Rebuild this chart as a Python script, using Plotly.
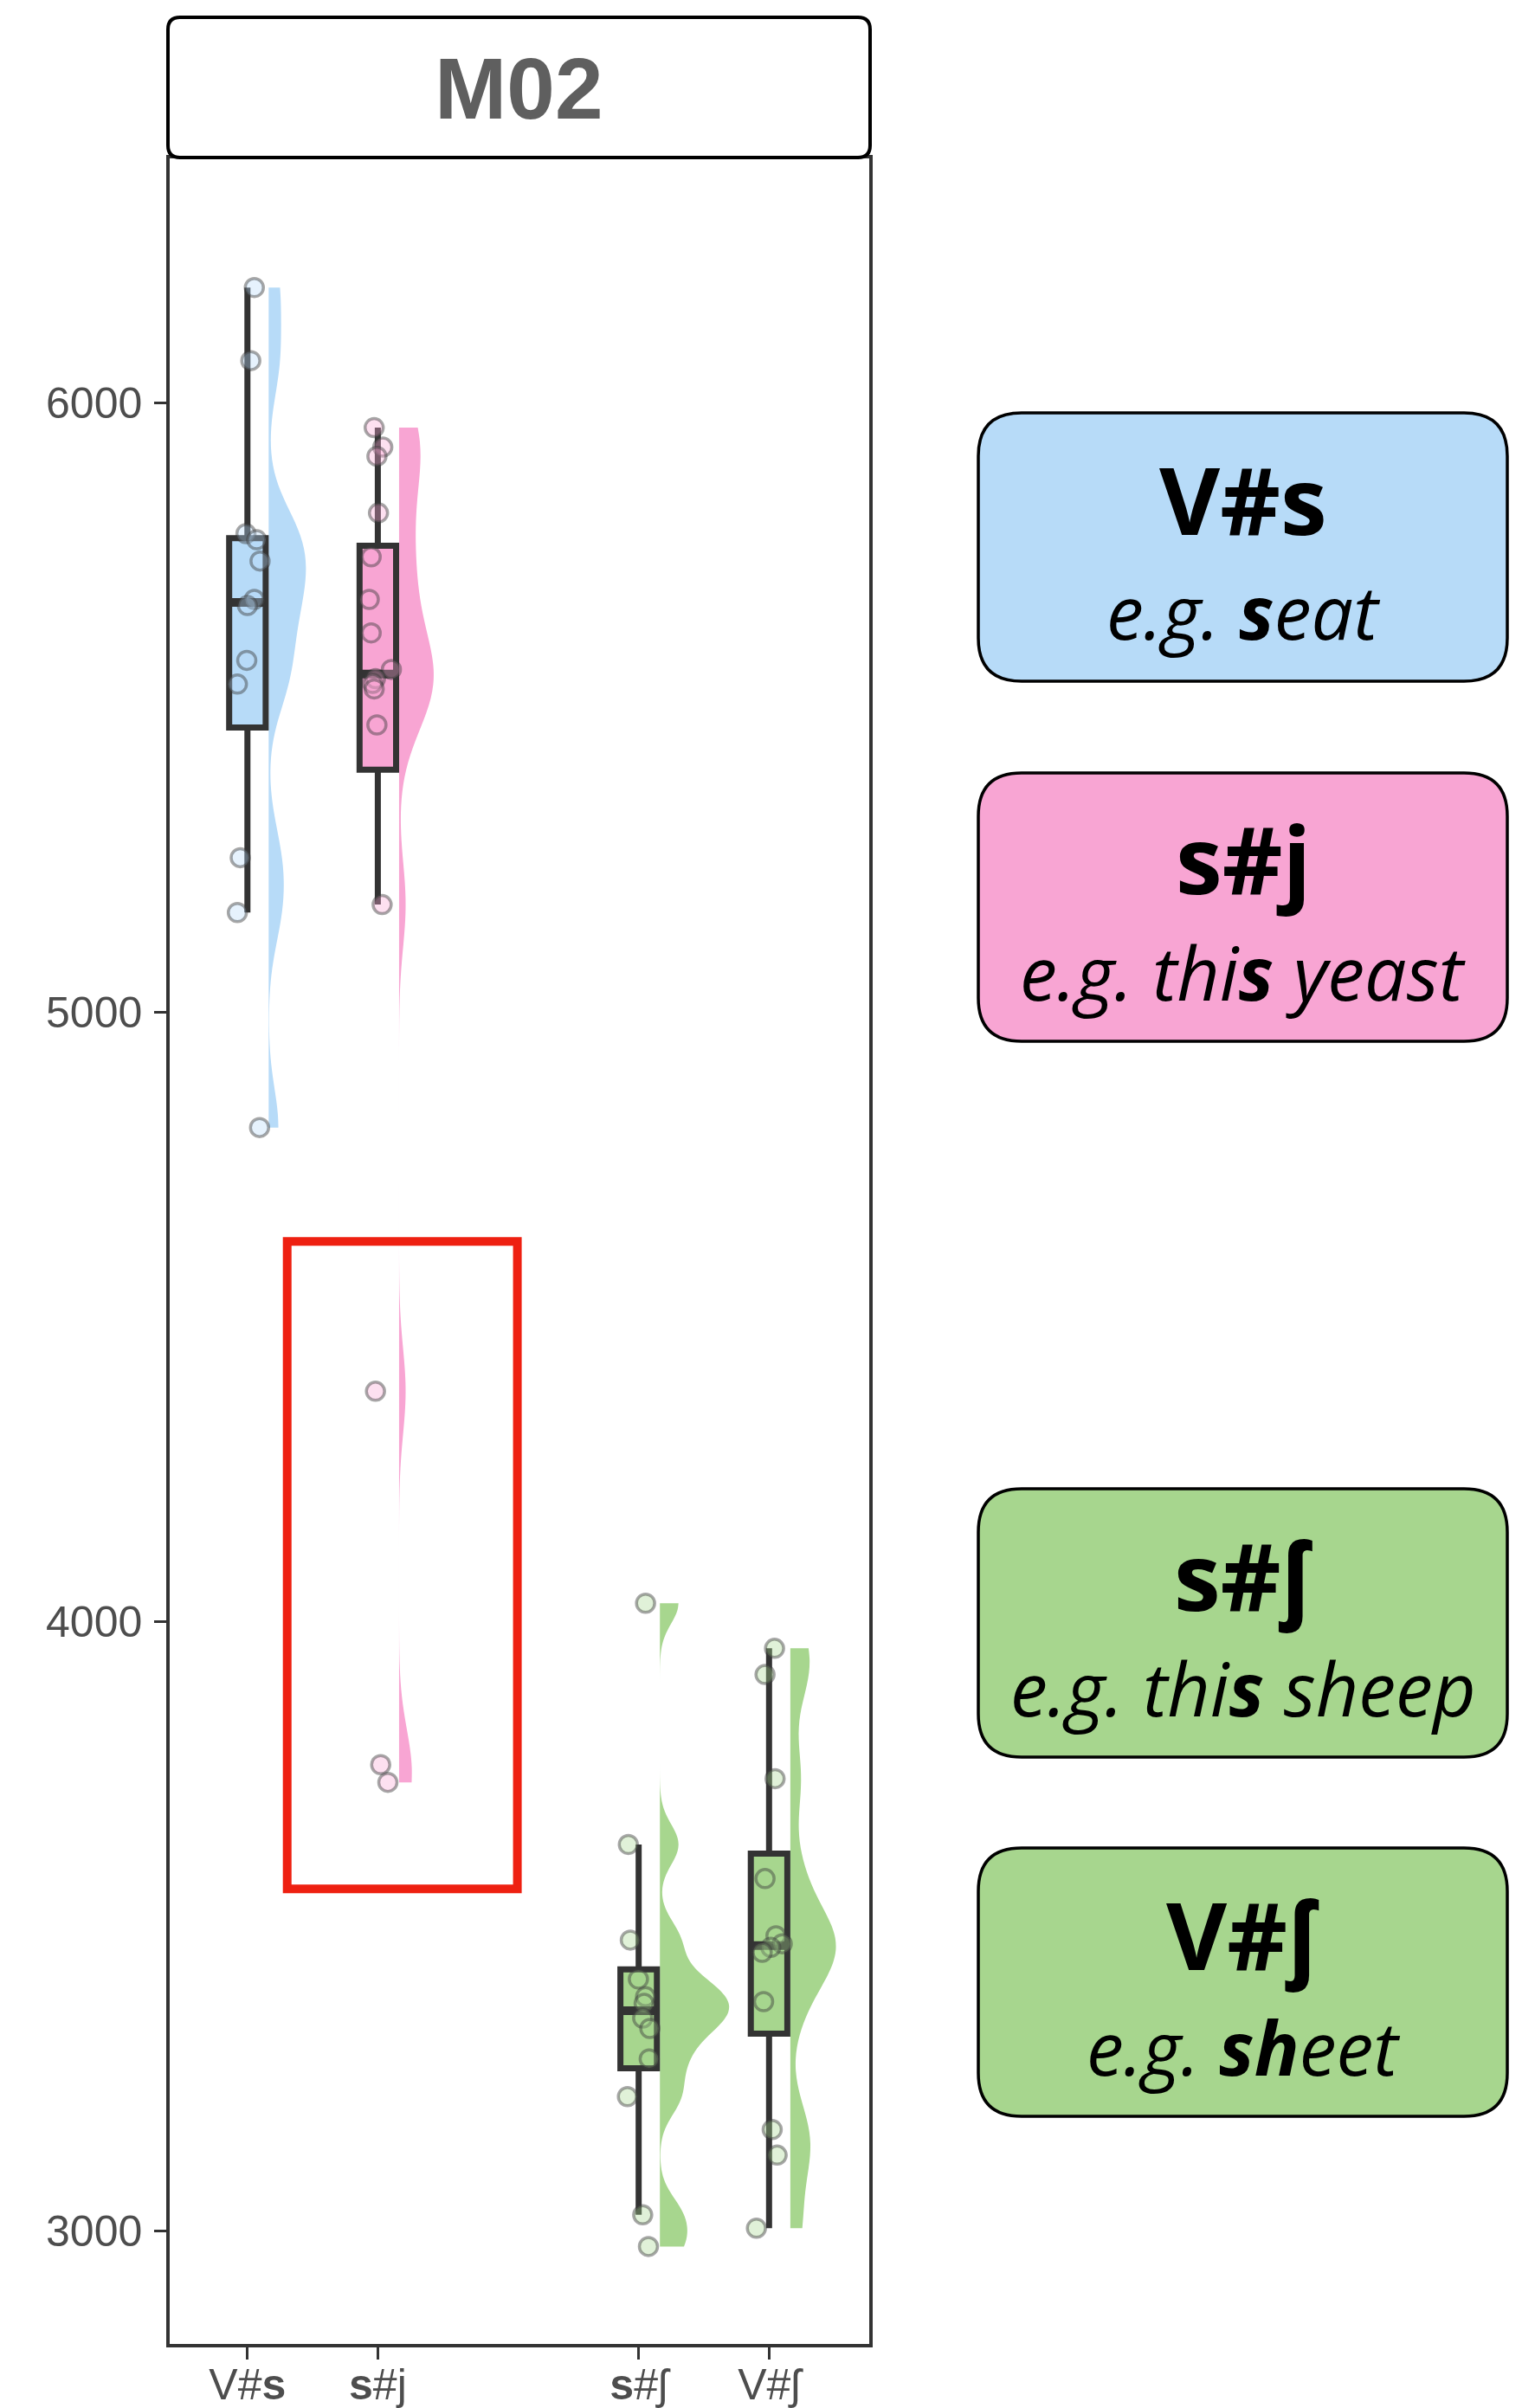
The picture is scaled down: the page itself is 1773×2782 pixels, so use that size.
import numpy as np
import plotly.graph_objects as go

# ---------------------------------------------------------------- data
speaker = "M02"
categories = ["V#s", "s#j", "s#ʃ", "V#ʃ"]
tick_text = ["V#<b>s</b>", "<b>s</b>#j", "<b>s</b>#ʃ", "V#ʃ"]
x_pos = [1, 2, 4, 5]                       # gap left where the 3rd slot would be

# centre of gravity (Hz), one value per token
vs_hz = [6190, 6070, 5786, 5776, 5741, 5678, 5668, 5578, 5539, 5254, 5164, 4811]
sj_hz = [5960, 5928, 5913, 5820, 5748, 5678, 5623, 5563, 5548, 5540, 5531, 5472,
         5177, 4378, 3765, 3736]
ssh_hz = [4030, 3634, 3477, 3413, 3384, 3373, 3349, 3332, 3282, 3220, 3026, 2974]
vsh_hz = [3956, 3913, 3742, 3578, 3484, 3471, 3465, 3457, 3376, 3166, 3124, 3004]

# horizontal jitter of the dots (x units)
vs_jit = [0.053, 0.026, -0.011, 0.071, 0.097, 0.053, 0.0, -0.005, -0.077, -0.055, -0.077, 0.093]
sj_jit = [-0.028, 0.038, -0.007, 0.005, -0.051, -0.066, -0.051, 0.104, -0.018, -0.040,
          -0.028, -0.007, 0.033, -0.018, 0.022, 0.077]
ssh_jit = [0.053, -0.079, -0.064, -0.002, 0.053, 0.042, 0.031, 0.086, 0.081, -0.086, 0.031, 0.075]
vsh_jit = [0.042, -0.031, 0.046, -0.031, 0.053, 0.101, 0.013, -0.053, -0.042, 0.024, 0.062, -0.097]

values = [vs_hz, sj_hz, ssh_hz, vsh_hz]
jitters = [vs_jit, sj_jit, ssh_jit, vsh_jit]

BLUE, PINK, GREEN = "#B7DBF8", "#F8A5D3", "#A7D68E"
group_colors = [BLUE, PINK, GREEN, GREEN]

# key boxes on the right
key_titles = ["V#s", "s#j", "s#ʃ", "V#ʃ"]
key_examples = ["e.g. <b>s</b>eat", "e.g. thi<b>s</b> yeast",
                "e.g. thi<b>s</b> sheep", "e.g. <b>sh</b>eet"]
key_colors = [BLUE, PINK, GREEN, GREEN]
key_tops = [477, 893, 1720, 2135]          # px

# highlighted region (s#j tokens that fall into the s#ʃ range)
hl_x = [1.305, 3.07]
hl_y = [3561, 4624]

ADJUST = 0.5        # density bandwidth = ADJUST * nrd0
MAX_HALF = 0.53     # widest half-violin, x units (area scaling: shared density scale)

# ---------------------------------------------------------------- geometry
W, H = 1773, 2782
L, R, T, B = 196, 1004, 183, 2708


def px(x):
    return (x - L) / (R - L)


def py(y):
    return (B - y) / (B - T)


def rrect(x0, y0, x1, y1, r):
    pts = [("M", x0 + r, y0), ("L", x1 - r, y0), ("Q", x1, y0, x1, y0 + r),
           ("L", x1, y1 - r), ("Q", x1, y1, x1 - r, y1), ("L", x0 + r, y1),
           ("Q", x0, y1, x0, y1 - r), ("L", x0, y0 + r), ("Q", x0, y0, x0 + r, y0)]
    s = ""
    for p in pts:
        c, *xy = p
        s += c + " " + " ".join(f"{px(xy[i]):.5f},{py(xy[i+1]):.5f}"
                                for i in range(0, len(xy), 2)) + " "
    return s + "Z"


def nrd0(v):
    v = np.asarray(v, float)
    q1, q3 = np.percentile(v, [25, 75])
    return 0.9 * min(v.std(ddof=1), (q3 - q1) / 1.34) * len(v) ** -0.2


def kde_peak(v, bw):
    v = np.asarray(v, float)
    g = np.linspace(v.min(), v.max(), 800)
    d = np.exp(-0.5 * ((g[:, None] - v[None, :]) / bw) ** 2).sum(1)
    return d.max() / (len(v) * bw * np.sqrt(2 * np.pi))


bws = [ADJUST * nrd0(v) for v in values]
peaks = [kde_peak(v, b) for v, b in zip(values, bws)]
top_peak = max(peaks)

fig = go.Figure()

# ---- half violins (same density scale for all => equal areas)
for p, v, c, bw, pk in zip(x_pos, values, group_colors, bws, peaks):
    fig.add_trace(go.Violin(
        x=[p + 0.163] * len(v), y=v, side="positive",
        width=2 * MAX_HALF * pk / top_peak,
        points=False, spanmode="hard", bandwidth=bw, scalemode="width",
        fillcolor=c, line=dict(width=0, color=c), opacity=1,
        box_visible=False, meanline_visible=False, hoverinfo="skip"))

# ---- boxes (Tukey whiskers, R type-7 quartiles)
for p, v, c in zip(x_pos, values, group_colors):
    a = np.asarray(v, float)
    q1, med, q3 = np.percentile(a, [25, 50, 75])
    iqr = q3 - q1
    lo = a[a >= q1 - 1.5 * iqr].min()
    hi = a[a <= q3 + 1.5 * iqr].max()
    fig.add_trace(go.Box(
        x=[p], q1=[q1], median=[med], q3=[q3], lowerfence=[lo], upperfence=[hi],
        width=0.28, whiskerwidth=0, fillcolor=c,
        line=dict(color="#333333", width=7), boxpoints=False, hoverinfo="skip"))
    fig.add_trace(go.Scatter(
        x=[p - 0.14, p + 0.14], y=[med, med], mode="lines",
        line=dict(color="#333333", width=10), hoverinfo="skip"))

# ---- tokens
for p, v, j, c in zip(x_pos, values, jitters, group_colors):
    r, g, b = (int(c[i:i + 2], 16) for i in (1, 3, 5))
    fig.add_trace(go.Scatter(
        x=[p + d for d in j], y=v, mode="markers",
        marker=dict(size=21, color=f"rgba({r},{g},{b},0.35)",
                    line=dict(width=3.5, color="rgba(60,60,60,0.45)")),
        hoverinfo="skip"))

shapes = [
    dict(type="rect", xref="x", yref="y", x0=hl_x[0], x1=hl_x[1], y0=hl_y[0], y1=hl_y[1],
         line=dict(color="#EE2011", width=10), layer="above"),
    # facet strip
    dict(type="path", xref="paper", yref="paper", path=rrect(194, 20, 1005, 182, 14),
         fillcolor="white", line=dict(color="black", width=4), layer="above"),
]
annotations = [
    dict(xref="paper", yref="paper", x=px(599.5), y=py(102), text=f"<b>{speaker}</b>",
         showarrow=False, xanchor="center", yanchor="middle",
         font=dict(family="Liberation Sans", size=100, color="#5F5F5F")),
]
KX0, KX1, KH = 1130, 1741, 310
for t, ex, c, top in zip(key_titles, key_examples, key_colors, key_tops):
    shapes.append(dict(type="path", xref="paper", yref="paper",
                       path=rrect(KX0, top, KX1, top + KH, 50),
                       fillcolor=c, line=dict(color="black", width=3.5), layer="above"))
    cx = (KX0 + KX1) / 2
    annotations.append(dict(xref="paper", yref="paper", x=px(cx), y=py(top + 99),
                            text=f"<b>{t}</b>", showarrow=False, xanchor="center",
                            yanchor="middle",
                            font=dict(family="Open Sans, Noto Sans", size=108, color="black")))
    annotations.append(dict(xref="paper", yref="paper", x=px(cx), y=py(top + 229),
                            text=f"<i>{ex}</i>", showarrow=False, xanchor="center",
                            yanchor="middle",
                            font=dict(family="Open Sans, Noto Sans", size=86, color="black")))

axis_style = dict(showline=True, linewidth=3.5, linecolor="#333333", mirror=True,
                  showgrid=False, zeroline=False, ticks="outside", ticklen=14,
                  tickwidth=3, tickcolor="#333333", automargin=False,
                  tickfont=dict(family="Liberation Sans", size=50, color="#4D4D4D"))

fig.update_layout(
    width=W, height=H, showlegend=False,
    margin=dict(l=L, r=W - R, t=T, b=H - B),
    plot_bgcolor="white", paper_bgcolor="white",
    xaxis=dict(range=[0.404, 5.768], tickvals=x_pos, ticktext=tick_text,
               ticklabelstandoff=-14, **axis_style),
    yaxis=dict(range=[2814, 6402], tickvals=[3000, 4000, 5000, 6000],
               ticklabelstandoff=4, **axis_style),
    shapes=shapes, annotations=annotations,
)

fig.write_html("out.html", config={"displayModeBar": False},
               post_script="document.body.style.margin='0';")
